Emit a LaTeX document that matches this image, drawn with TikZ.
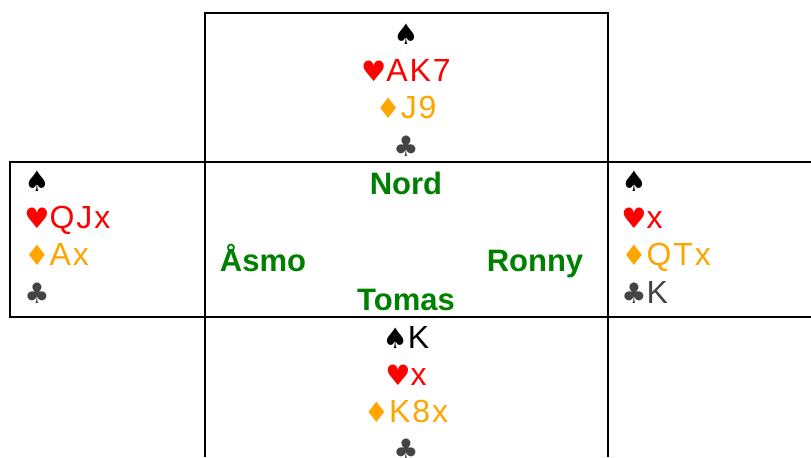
\documentclass[tikz,border=0pt]{standalone}
\usepackage{fontspec}
\setmainfont{Liberation Sans}
\newfontfamily\cardfont{Liberation Sans}[LetterSpace=6]
\newfontfamily\suitfont{DejaVu Sans}[Scale=0.88]
\usepackage{xcolor}
\definecolor{heartred}{RGB}{255,0,0}
\definecolor{diamorange}{RGB}{255,165,0}
\definecolor{clubgray}{RGB}{68,68,68}
\definecolor{namegreen}{RGB}{0,128,0}
\newcommand{\spd}[1]{\textcolor{black}{{\suitfont ♠}#1}}
\newcommand{\hrt}[1]{\textcolor{heartred}{{\suitfont ♥}#1}}
\newcommand{\dia}[1]{\textcolor{diamorange}{{\suitfont ♦}#1}}
\newcommand{\clb}[1]{\textcolor{clubgray}{{\suitfont ♣}#1}}

\begin{document}
\begin{tikzpicture}[x=0.5pt,y=-0.5pt,
    hand/.style={inner sep=0pt,font=\cardfont\fontsize{16}{18.6}\selectfont},
    player/.style={inner sep=0pt,anchor=base,text=namegreen,font=\bfseries\fontsize{15.5}{18}\selectfont}]
    \useasboundingbox (0,0) rectangle (811,457);
    % table
    \draw[line width=1pt] (205,457) -- (205,13) -- (608,13) -- (608,457);
    \draw[line width=1pt] (811,162) -- (10,162) -- (10,317) -- (811,317);
    % hands
    \node[hand, align=center] (N) at (406,90)
    {\spd{}\\\hrt{AK7}\\\dia{J9}\\\clb{}};
    \node[hand, align=left, anchor=west] (W) at (24,237)
    {\spd{}\\\hrt{QJx}\\\dia{Ax}\\\clb{}};
    \node[hand, align=left, anchor=west] (E) at (621,237)
    {\spd{}\\\hrt{x}\\\dia{QTx}\\\clb{K}};
    \node[hand, align=center] (S) at (406,393)
    {\spd{K}\\\hrt{x}\\\dia{K8x}\\\clb{}};
    % players
    \node[player] (nord) at (406,194) {Nord};
    \node[player] (aasmo) at (263,271) {Åsmo};
    \node[player] (ronny) at (535,271) {Ronny};
    \node[player] (tomas) at (406,310) {Tomas};
  \end{tikzpicture}
\end{document}
